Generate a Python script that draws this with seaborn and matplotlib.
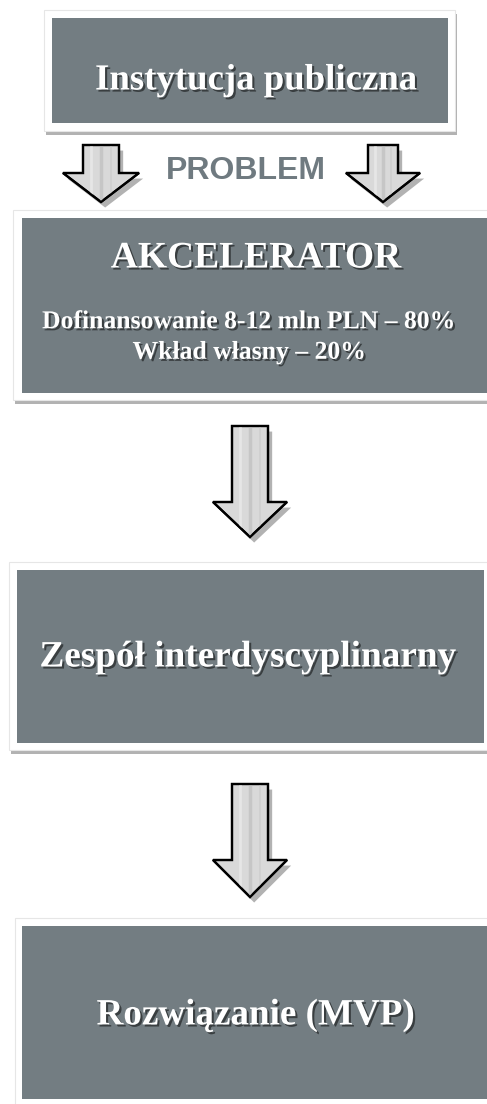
import matplotlib
matplotlib.use("Agg")
import matplotlib.pyplot as plt
import matplotlib.patheffects as pe
from matplotlib.patches import Rectangle, Polygon
import seaborn as sns

# texts of the flow
box_titles = ["Instytucja publiczna", "AKCELERATOR", "Zespół interdyscyplinarny", "Rozwiązanie (MVP)"]
box_subtitles = ["", "Dofinansowanie 8-12 mln PLN – 80%\nWkład własny – 20%", "", ""]
connector_label = "PROBLEM"

# layout (pixel coords, y from top)
box_frames = [(44, 10, 455, 131), (13, 210, 492, 400), (9, 562, 490, 750), (15, 918, 492, 1110)]
box_fills = [(52, 18, 448, 123), (22, 218, 492, 393), (17, 570, 484, 743), (22, 926, 492, 1099)]
title_x = [256, 256, 248, 256]
title_y = [80, 258, 657, 1015]
title_size = [26.5, 27, 26.8, 26.7]
arrow_cx = [101, 383, 250, 250]
arrow_top = [145, 145, 426, 784]
arrow_neck = [173, 173, 502, 860]
arrow_tip = [202, 202, 537, 897]
arrow_half_shaft = [18, 15, 18, 18]
arrow_half_head = [38, 37, 37, 37]

FILL = "#737d82"

sns.set_theme(style="white")
plt.rcParams["font.family"] = ["Liberation Serif", "DejaVu Serif"]

fig = plt.figure(figsize=(4.87, 11.04), dpi=100)
ax = fig.add_axes([0, 0, 1, 1])
ax.set_xlim(0, 487)
ax.set_ylim(1104, 0)
ax.axis("off")

shadow = [pe.SimplePatchShadow(offset=(1.5, -3), shadow_rgbFace="black", alpha=0.3), pe.Normal()]

for (x0, y0, x1, y1), (fx0, fy0, fx1, fy1) in zip(box_frames, box_fills):
    ax.add_patch(Rectangle((x0, y0), x1 - x0, y1 - y0, facecolor="white",
                           edgecolor="#e6e6e6", lw=0.8, path_effects=shadow, zorder=1))
    ax.add_patch(Rectangle((fx0, fy0), fx1 - fx0, fy1 - fy0, facecolor=FILL,
                           edgecolor="none", zorder=2))

txt_shadow = [pe.SimplePatchShadow(offset=(1.5, -1.5), shadow_rgbFace="black", alpha=0.5), pe.Normal()]

for title, sub, tx, ty, ts in zip(box_titles, box_subtitles, title_x, title_y, title_size):
    ax.text(tx, ty, title, ha="center", va="center", color="white", fontsize=ts,
            fontweight="bold", path_effects=txt_shadow, zorder=3)
    if sub:
        ax.text(250, 337, sub, ha="center", va="center", color="white", fontsize=18.5,
                fontweight="bold", linespacing=1.42, path_effects=txt_shadow, zorder=3)

ax.text(246, 171, connector_label, ha="center", va="center", color="#6f7a80",
        fontsize=23, fontweight="bold", family=["Liberation Sans", "DejaVu Sans"], zorder=3)

arrow_shadow = [pe.SimplePatchShadow(offset=(3, -4), shadow_rgbFace="black", alpha=0.3), pe.Normal()]
for cx, top, neck, tip, hs, hh in zip(arrow_cx, arrow_top, arrow_neck, arrow_tip,
                                      arrow_half_shaft, arrow_half_head):
    pts = [(cx - hs, top), (cx + hs, top), (cx + hs, neck), (cx + hh, neck),
           (cx, tip), (cx - hh, neck), (cx - hs, neck)]
    poly = Polygon(pts, closed=True, facecolor="#d9d9d9", edgecolor="black",
                   lw=1.6, joinstyle="miter", path_effects=arrow_shadow, zorder=4)
    ax.add_patch(poly)
    for dx, c, w in [(-hs * 0.55, "#e6e6e6", 2), (0, "#c6c6c6", 2.5), (hs * 0.55, "#cfcfcf", 1.2)]:
        ln, = ax.plot([cx + dx, cx + dx], [top, tip], color=c, lw=w, zorder=5)
        ln.set_clip_path(poly)
    ax.add_patch(Polygon(pts, closed=True, facecolor="none", edgecolor="black",
                         lw=1.6, joinstyle="miter", zorder=6))

fig.savefig("out.png", dpi=100)
